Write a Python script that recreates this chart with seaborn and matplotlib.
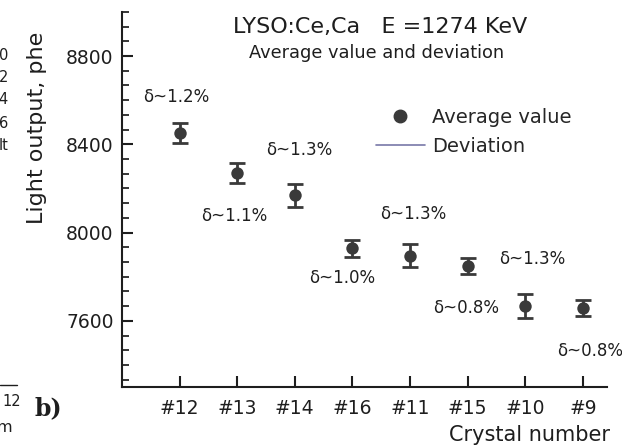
"""LYSO:Ce,Ca light output per crystal with deviation labels."""
import matplotlib

matplotlib.use("Agg")
import matplotlib.pyplot as plt
import matplotlib.ticker as mtick
import numpy as np
import seaborn as sns
from matplotlib.lines import Line2D

# Data
crystals = ["#12", "#13", "#14", "#16", "#11", "#15", "#10", "#9"]
light_output = [8451, 8271, 8168, 7929, 7895, 7850, 7668, 7658]
light_error = [47, 45, 53, 38, 51, 36, 55, 36]
deviations = ["1.2%", "1.1%", "1.3%", "1.0%", "1.3%", "0.8%", "1.3%", "0.8%"]

# Where each deviation label sits (category index, value)
label_xy = [
    (-0.05, 8614),
    (0.95, 8077),
    (2.08, 8373),
    (2.83, 7795),
    (4.05, 8086),
    (4.98, 7659),
    (6.13, 7882),
    (7.12, 7464),
]

DARK = "#3a3a3a"
TEXT = "#1e1e1e"

sns.set_style("ticks")
plt.rcParams["font.family"] = ["DejaVu Sans"]

fig = plt.figure(figsize=(6.22, 4.46), dpi=100)
ax = fig.add_axes([0.196, 0.1323, 0.78, 0.841])

positions = np.arange(len(crystals))
ax.errorbar(
    positions,
    light_output,
    yerr=light_error,
    fmt="none",
    ecolor=DARK,
    elinewidth=2,
    capsize=6,
    capthick=2,
    zorder=2,
)
sns.scatterplot(
    x=positions,
    y=light_output,
    ax=ax,
    color=DARK,
    s=80,
    edgecolor=DARK,
    linewidth=0,
    zorder=3,
    legend=False,
)

for dev, (lx, ly) in zip(deviations, label_xy):
    ax.text(lx, ly, "\u03b4~" + dev, ha="center", va="center",
            fontsize=12, color=TEXT, clip_on=False)

ax.set_xlim(-1.0, 7.42)
ax.set_ylim(7300, 9000)
ax.set_xticks(positions)
ax.set_xticklabels(crystals)
ax.yaxis.set_major_locator(mtick.MultipleLocator(400))
ax.yaxis.set_minor_locator(mtick.AutoMinorLocator(6))

ax.tick_params(axis="both", which="major", direction="in", length=8,
               width=1.5, labelsize=13.5, colors=TEXT, pad=6)
ax.tick_params(axis="y", which="minor", direction="in", length=5, width=1.3)
ax.tick_params(axis="x", which="major", pad=9)

for side in ["top", "right"]:
    ax.spines[side].set_visible(False)
for side in ["left", "bottom"]:
    ax.spines[side].set_linewidth(1.5)
    ax.spines[side].set_color(TEXT)

ax.set_ylabel("Light output, phe", fontsize=16, color=TEXT)
ax.yaxis.set_label_coords(-0.155, 0.69)
ax.set_xlabel("Crystal number", fontsize=15, color=TEXT)
ax.xaxis.set_label_coords(0.841, -0.102)

fig.text(233 / 622, 1 - 27 / 446, "LYSO:Ce,Ca   E =1274 KeV",
         fontsize=16, color=TEXT, ha="left", va="center")
fig.text(249 / 622, 1 - 53 / 446, "Average value and deviation",
         fontsize=12.75, color=TEXT, ha="left", va="center")

handles = [
    Line2D([], [], linestyle="none", marker="o", markersize=9,
           color=DARK),
    Line2D([], [], color="#7878a8", linewidth=1.2),
]
ax.legend(
    handles,
    ["Average value", "Deviation"],
    loc="upper left",
    bbox_to_anchor=(376 / 622, 1 - 108 / 446),
    bbox_transform=fig.transFigure,
    frameon=False,
    fontsize=14,
    handlelength=2.5,
    handletextpad=0.4,
    labelspacing=0.5,
    borderpad=0,
    borderaxespad=0,
)

# Bits of the neighbouring panel that show at the left edge
fig.text(48 / 622, 1 - 408 / 446, "b)", fontsize=17, fontweight="bold",
         family="DejaVu Serif", color=TEXT, ha="center", va="center")
for txt, ypix in zip(["0", "2", "4", "6", "lt"], [55, 78, 100, 123, 145]):
    fig.text(8 / 622, 1 - ypix / 446, txt, fontsize=10.5, color=TEXT,
             ha="right", va="center")
fig.text(2 / 622, 1 - 402 / 446, "12", fontsize=10.5, color=TEXT,
         ha="left", va="center")
fig.text(-3 / 622, 1 - 428 / 446, "m", fontsize=11.5, color=TEXT,
         ha="left", va="center")
fig.add_artist(Line2D([0, 17 / 622], [1 - 385 / 446] * 2,
                      transform=fig.transFigure, color=TEXT, linewidth=1))

fig.savefig("out.png", dpi=100)
